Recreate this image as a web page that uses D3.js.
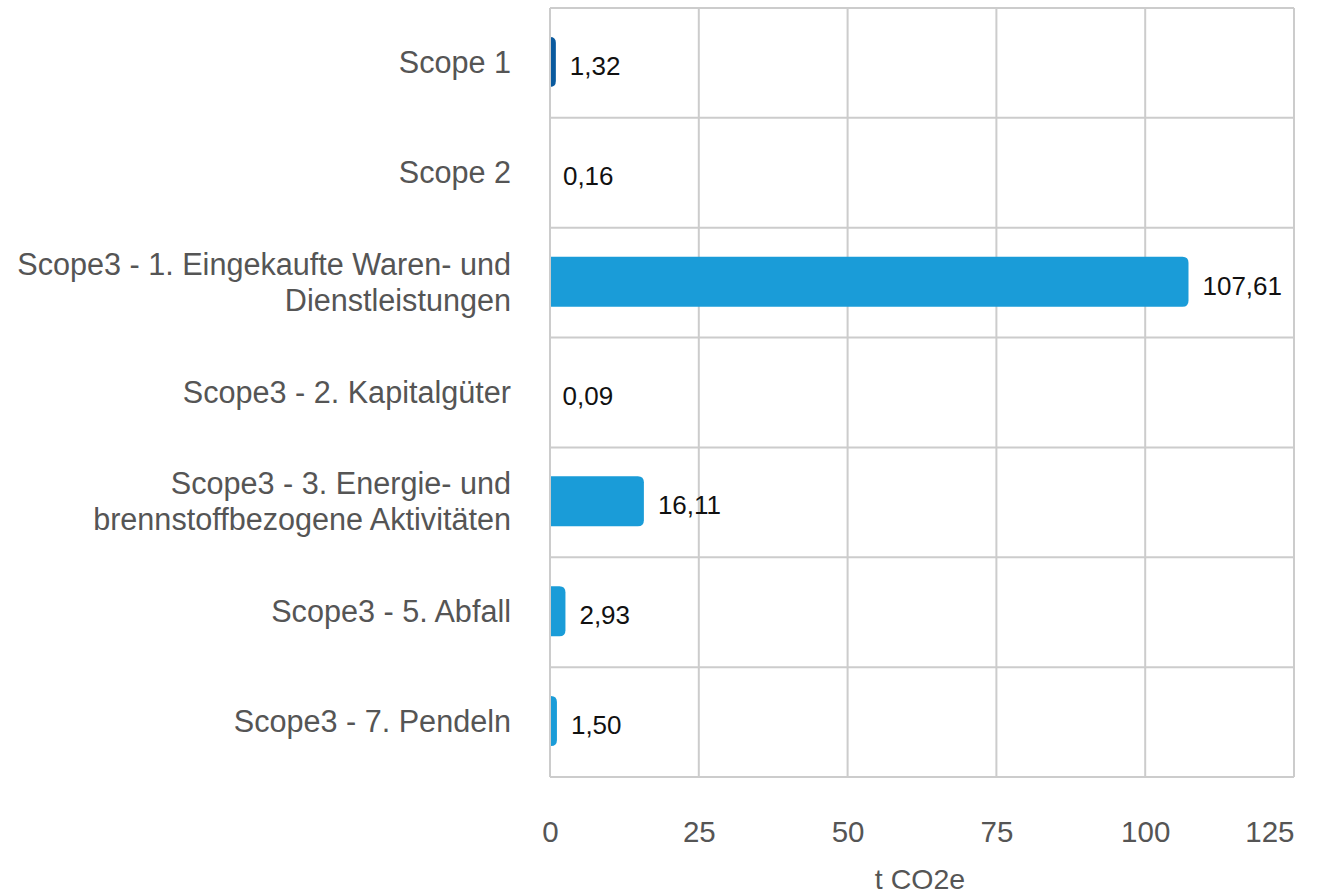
<!DOCTYPE html>
<html>
<head>
<meta charset="utf-8">
<script src="https://cdn.jsdelivr.net/npm/d3@7"></script>
<style>
  html, body { margin: 0; padding: 0; background: #fff; }
  svg { display: block; font-family: "Liberation Sans", Arial, sans-serif; }
</style>
</head>
<body>
<svg id="chart" width="1317" height="895"></svg>
<script>
const categories = [
  ["Scope 1"],
  ["Scope 2"],
  ["Scope3 - 1. Eingekaufte Waren- und", "Dienstleistungen"],
  ["Scope3 - 2. Kapitalgüter"],
  ["Scope3 - 3. Energie- und", "brennstoffbezogene Aktivitäten"],
  ["Scope3 - 5. Abfall"],
  ["Scope3 - 7. Pendeln"]
];
const values = [1.32, 0.16, 107.61, 0.09, 16.11, 2.93, 1.50];
const valueLabels = ["1,32", "0,16", "107,61", "0,09", "16,11", "2,93", "1,50"];
const barColors = ["#0a5a9e", "#1a9cd8", "#1a9cd8", "#1a9cd8", "#1a9cd8", "#1a9cd8", "#1a9cd8"];
const xTicks = [0, 25, 50, 75, 100, 125];
const xTitle = "t CO2e";

(function () {
const svg = d3.select("#chart");
const mLeft = 550, mRight = 1294, mTop = 8, mBottom = 777;

const x = d3.scaleLinear().domain([0, 125]).range([mLeft, mRight]);
const y = d3.scaleBand().domain(d3.range(categories.length)).range([mTop, mBottom]);
const bandH = y.bandwidth();

const gridColor = "#cccccc";

// vertical grid lines
svg.append("g").selectAll("line").data(xTicks).join("line")
  .attr("x1", d => x(d)).attr("x2", d => x(d))
  .attr("y1", mTop).attr("y2", mBottom)
  .attr("stroke", gridColor).attr("stroke-width", 2);

// horizontal band separators
const seps = d3.range(categories.length).map(i => y(i)).concat([mBottom]);
svg.append("g").selectAll("line").data(seps).join("line")
  .attr("x1", mLeft).attr("x2", mRight)
  .attr("y1", d => d).attr("y2", d => d)
  .attr("stroke", gridColor).attr("stroke-width", 2);

// bars with rounded right corners
function barPath(x0, x1, y0, h, r) {
  const w = Math.max(x1 - x0, 0.5);
  const xe = x0 + w;
  const rr = Math.min(r, w, h / 2);
  return `M${x0},${y0} H${xe - rr} Q${xe},${y0} ${xe},${y0 + rr} V${y0 + h - rr} Q${xe},${y0 + h} ${xe - rr},${y0 + h} H${x0} Z`;
}
const barH = 50;
svg.append("g").selectAll("path").data(values).join("path")
  .attr("d", (d, i) => {
    const cy = y(i) + bandH / 2 - 1;
    return barPath(x(0), x(d) - 2, cy - barH / 2, barH, 6);
  })
  .attr("fill", (d, i) => barColors[i]);

// left axis line on top
svg.append("line").attr("x1", mLeft).attr("x2", mLeft).attr("y1", mTop).attr("y2", mBottom)
  .attr("stroke", gridColor).attr("stroke-width", 2);

// value labels
svg.append("g").selectAll("text").data(values).join("text")
  .attr("x", d => x(d) + 12)
  .attr("y", (d, i) => y(i) + bandH / 2 + 12)
  .attr("font-size", 26)
  .attr("fill", "#111")
  .text((d, i) => valueLabels[i]);

// category labels
const catG = svg.append("g");
categories.forEach((lines, i) => {
  const cy = y(i) + bandH / 2;
  const lh = 36;
  const t = catG.append("text")
    .attr("text-anchor", "end")
    .attr("font-size", 30.6)
    .attr("fill", "#555");
  lines.forEach((ln, j) => {
    t.append("tspan")
      .attr("x", mLeft - 39)
      .attr("y", cy + 10 + (j - (lines.length - 1) / 2) * lh)
      .text(ln);
  });
});

// x axis tick labels
const axis = d3.axisBottom(x).tickValues(xTicks).tickSize(0).tickPadding(0);
const ag = svg.append("g").attr("transform", `translate(0,${mBottom})`).call(axis);
ag.select(".domain").remove();
ag.selectAll("text")
  .attr("font-size", 29.5)
  .attr("fill", "#555")
  .attr("dy", null)
  .attr("y", 65)
  .attr("font-family", "Liberation Sans, Arial, sans-serif")
  .attr("text-anchor", (d, i) => i === xTicks.length - 1 ? "end" : "middle");

// axis title
svg.append("text")
  .attr("x", (mLeft + mRight) / 2 - 2)
  .attr("y", 889)
  .attr("text-anchor", "middle")
  .attr("font-size", 28.5)
  .attr("fill", "#555")
  .text(xTitle);
})();
</script>
</body>
</html>
